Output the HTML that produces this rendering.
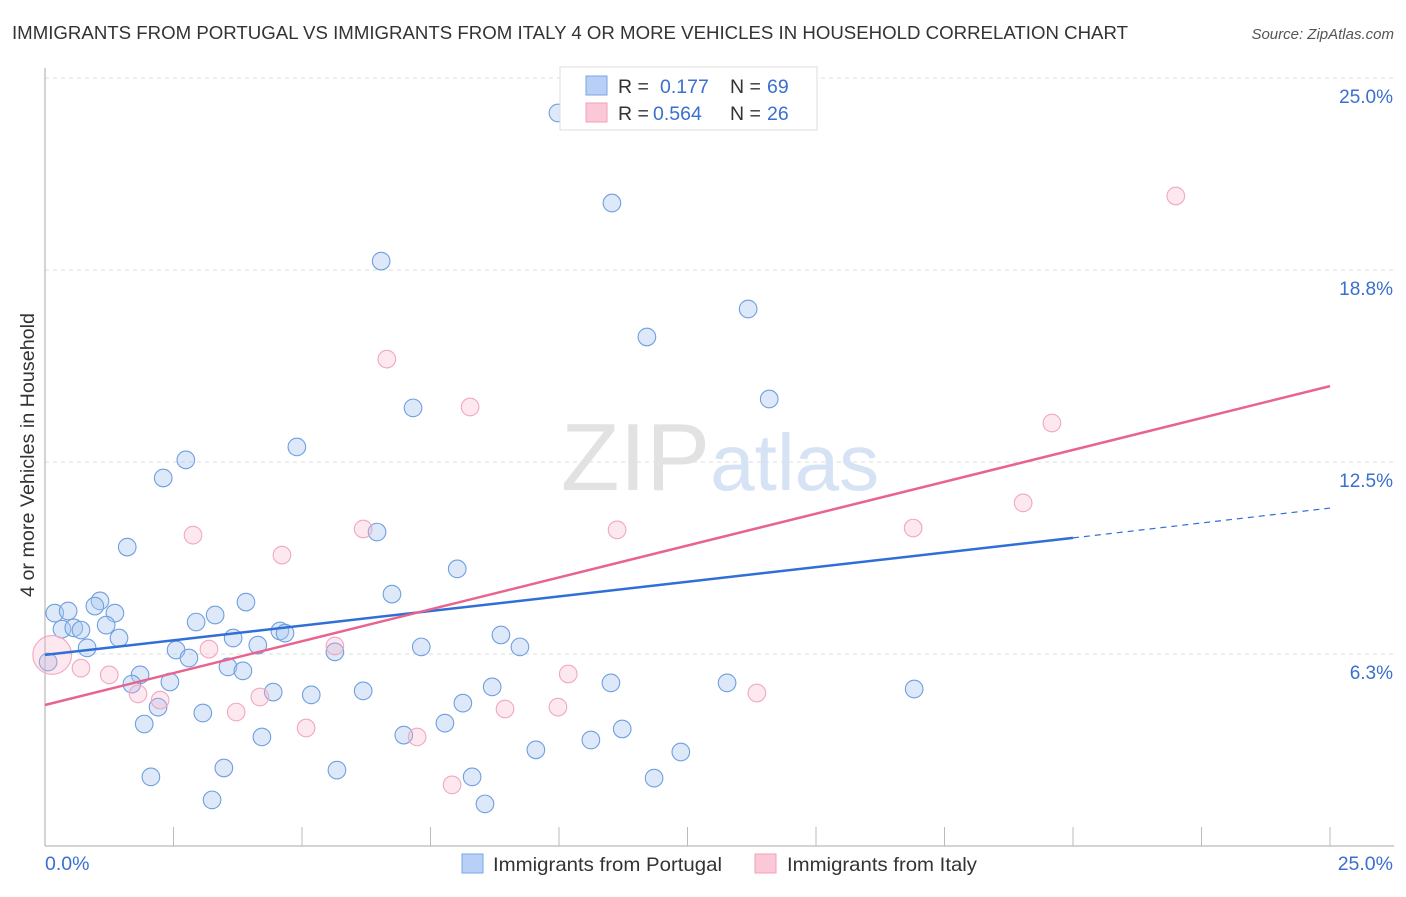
<!DOCTYPE html>
<html><head><meta charset="utf-8"><style>
body{margin:0;background:#fff;font-family:"Liberation Sans",sans-serif}
svg text{font-family:"Liberation Sans",sans-serif}
</style></head><body>
<svg id="chart" width="1406" height="892" xmlns="http://www.w3.org/2000/svg">
<text x="12" y="39" font-size="18" fill="#333" textLength="1116" lengthAdjust="spacingAndGlyphs">IMMIGRANTS FROM PORTUGAL VS IMMIGRANTS FROM ITALY 4 OR MORE VEHICLES IN HOUSEHOLD CORRELATION CHART</text>
<text x="1394" y="39" font-size="15" font-style="italic" fill="#555" text-anchor="end">Source: ZipAtlas.com</text>
<g id="grid"></g>
<g id="axes"></g>
<text x="720" y="490" font-size="96" text-anchor="middle" fill="#ddd" font-family="Liberation Serif"><tspan fill="#e2e2e2">ZIP</tspan><tspan fill="#d5e3f5" font-family="Liberation Sans" font-size="80">atlas</tspan></text>
<g id="pts"></g>
<g id="lines"></g>
<text transform="translate(34,455) rotate(-90)" font-size="19" fill="#333" text-anchor="middle" textLength="284" lengthAdjust="spacingAndGlyphs">4 or more Vehicles in Household</text>
<g>
<rect x="560" y="67" width="257" height="63" fill="#fff" stroke="#ddd"/>
<rect x="586" y="76" width="21" height="19" fill="#b8d0f5" stroke="#7aa5e5"/>
<rect x="586" y="103" width="21" height="19" fill="#fac8d6" stroke="#f0a0b8"/>
<text x="618" y="93" font-size="19.5" fill="#333">R = </text><text x="660" y="93" font-size="19.5" fill="#3a6fd0">0.177</text>
<text x="730" y="93" font-size="19.5" fill="#333">N = </text><text x="767" y="93" font-size="19.5" fill="#3a6fd0">69</text>
<text x="618" y="120" font-size="19.5" fill="#333">R = </text><text x="653" y="120" font-size="19.5" fill="#3a6fd0">0.564</text>
<text x="730" y="120" font-size="19.5" fill="#333">N = </text><text x="767" y="120" font-size="19.5" fill="#3a6fd0">26</text>
</g>
<g>
<rect x="462" y="854" width="21" height="19" fill="#b8d0f5" stroke="#7aa5e5"/>
<text x="493" y="871" font-size="19.5" fill="#333" textLength="229" lengthAdjust="spacingAndGlyphs">Immigrants from Portugal</text>
<rect x="755" y="854" width="21" height="19" fill="#fac8d6" stroke="#f0a0b8"/>
<text x="787" y="871" font-size="19.5" fill="#333" textLength="190" lengthAdjust="spacingAndGlyphs">Immigrants from Italy</text>
</g>
</svg>
<script>
const yTicks=[6.25,12.5,18.75,25];
const yTickLabels=["6.3%","12.5%","18.8%","25.0%"];
const xLabels=["0.0%","25.0%"];
const portugalX=[9.98,11.03,6.54,13.68,11.71,14.09,7.16,4.90,2.74,2.30,6.46,1.60,8.02,6.75,3.91,1.07,0.97,0.19,0.45,1.36,3.31,2.94,1.19,0.33,0.56,0.70,1.44,3.66,4.57,4.67,8.87,4.14,7.32,9.24,0.82,2.55,5.64,0.06,2.80,3.56,3.85,1.85,2.43,1.69,11.01,13.27,8.70,16.91,6.19,4.44,5.18,8.13,2.20,3.07,7.78,1.93,11.23,6.98,4.22,10.62,9.55,12.37,3.48,5.68,2.06,8.31,11.85,3.25,8.56];
const portugalY=[23.86,20.93,19.04,17.48,16.57,14.55,14.26,12.99,12.57,11.98,10.22,9.73,9.02,8.20,7.94,7.98,7.81,7.58,7.65,7.58,7.52,7.29,7.19,7.06,7.10,7.03,6.77,6.77,7.00,6.93,6.87,6.54,6.48,6.48,6.45,6.38,6.32,5.99,6.12,5.83,5.70,5.57,5.34,5.27,5.31,5.31,5.18,5.11,5.05,5.01,4.92,4.65,4.52,4.33,4.00,3.97,3.81,3.61,3.55,3.45,3.13,3.06,2.54,2.47,2.25,2.25,2.21,1.50,1.37];
const italyX=[22.00,6.65,8.27,19.59,19.03,16.89,11.13,6.19,2.88,4.61,5.64,3.19,0.14,0.70,1.25,10.18,1.81,2.24,4.18,13.85,3.72,9.98,8.95,5.08,7.24,7.92];
const italyY=[21.16,15.85,14.29,13.77,11.17,10.35,10.29,10.32,10.12,9.47,6.51,6.41,6.22,5.79,5.57,5.60,4.95,4.75,4.85,4.98,4.36,4.52,4.46,3.84,3.55,1.99];
const italySize=[1,1,1,1,1,1,1,1,1,1,1,1,2.2,1,1,1,1,1,1,1,1,1,1,1,1,1];
const portugalTrend=[[0,6.22],[20,10.03],[25,11.0]];
const italyTrend=[[0,4.59],[25,14.97]];
const X0=45,X1=1330,Y0=846,Y1=78;
const sx=v=>X0+(v/25)*(X1-X0), sy=v=>Y0-(v/25)*(Y0-Y1);
const NS="http://www.w3.org/2000/svg";
function mk(t,a,p){const e=document.createElementNS(NS,t);for(const k in a)e.setAttribute(k,a[k]);p.appendChild(e);return e;}
const grid=document.getElementById('grid'),axes=document.getElementById('axes');
yTicks.forEach((t,i)=>{
 const g=mk('line',{x1:X0,x2:1394,y1:sy(t),y2:sy(t),stroke:'#ddd','stroke-dasharray':'4,4'},grid);
 
 
 const l=mk('text',{x:1393,y:sy(t)+25,'font-size':19,fill:'#3a6fd0','text-anchor':'end'},axes);
 l.textContent=yTickLabels[i];
 
 
});
mk('line',{x1:X0,x2:X0,y1:68,y2:Y0,stroke:'#aaa'},axes);
mk('line',{x1:X0,x2:1394,y1:Y0,y2:Y0,stroke:'#aaa'},axes);
for(let i=1;i<=10;i++){const tk=mk('line',{x1:sx(i*2.5),x2:sx(i*2.5),y1:Y0-19,y2:Y0,stroke:'#bbb'},axes);
 
 }
[[0,'start',X0],[1,'end',1393]].forEach(([i,a,x])=>{const t=mk('text',{x:x,y:870,'font-size':19.5,fill:'#3a6fd0','text-anchor':a},axes);t.textContent=xLabels[i];
 
 });
const pts=document.getElementById('pts');
portugalX.forEach((v,i)=>{const c=mk('circle',{cx:sx(v),cy:sy(portugalY[i]),r:8.8,fill:'rgba(170,200,240,0.4)',stroke:'#6f9fe0','stroke-width':1.1},pts);
 
 });
italyX.forEach((v,i)=>{const c=mk('circle',{cx:sx(v),cy:sy(italyY[i]),r:8.8*italySize[i],fill:'rgba(246,178,200,0.3)',stroke:'#f0a8c0','stroke-width':1.1},pts);
 
 });
const ln=document.getElementById('lines');
const b1=mk('line',{x1:sx(portugalTrend[0][0]),y1:sy(portugalTrend[0][1]),x2:sx(portugalTrend[1][0]),y2:sy(portugalTrend[1][1]),stroke:'#2f6fd6','stroke-width':2.5},ln);


const b2=mk('line',{x1:sx(portugalTrend[1][0]),y1:sy(portugalTrend[1][1]),x2:sx(portugalTrend[2][0]),y2:sy(portugalTrend[2][1]),stroke:'#2f6fd6','stroke-width':1.2,'stroke-dasharray':'6,5'},ln);


const p1=mk('line',{x1:sx(italyTrend[0][0]),y1:sy(italyTrend[0][1]),x2:sx(italyTrend[1][0]),y2:sy(italyTrend[1][1]),stroke:'#e8648f','stroke-width':2.5},ln);


</script>
</body></html>
